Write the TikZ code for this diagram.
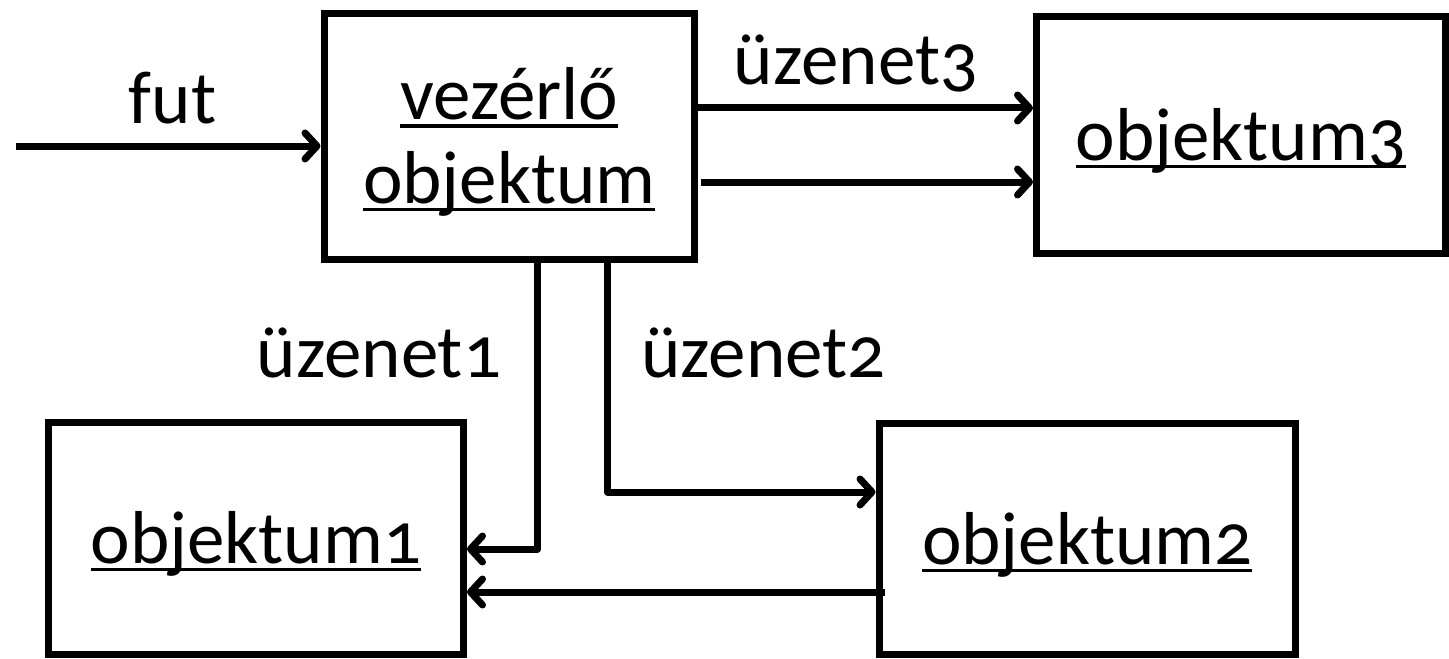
\documentclass[tikz,border=0pt]{standalone}
\usepackage{fontspec}
\setmainfont{Carlito}[Numbers=OldStyle]
\usetikzlibrary{arrows.meta}
\newcommand\ulx[1]{\setbox0=\hbox{#1}\rlap{\rule[-0.105em]{\wd0}{0.045em}}\box0}
\newcommand\lowr[1]{\raisebox{-2.75pt}[\height][\depth]{#1}}
\begin{document}
\begin{tikzpicture}[x=0.5pt,y=-0.5pt,
  every node/.style={font=\fontsize{37.5pt}{41pt}\selectfont},
  box/.style={draw, line width=3.5pt, rectangle, inner sep=0pt, align=center},
  obox/.style={box, text height=27pt, text depth=2pt},
  lbl/.style={anchor=base, inner sep=0pt},
  arr/.style={line width=3.5pt, line join=round, -{Straight Barb[length=6pt,width=13pt,line join=round,line cap=round]}}]
\useasboundingbox (0,0) rectangle (1449,658);
% boxes
\node[box, minimum width=185.25pt, minimum height=123pt] (V) at (509.25,136.5) {\lowr{\ulx{vezérlő}}\\[0.75pt]\lowr{\ulx{objektum}}};
\node[obox, minimum width=204.5pt, minimum height=118.5pt] (O3) at (1241,135) {\ulx{objektum3}};
\node[obox, minimum width=207.5pt, minimum height=116pt] (O1) at (256,538.5) {\ulx{objektum1}};
\node[obox, minimum width=208.25pt, minimum height=115.5pt] (O2) at (1087.25,539) {\ulx{objektum2}};
% labels
\node[lbl] (lfut) at (172.6,123) {fut};
\node[lbl] (l3) at (856,85) {üzenet3};
\node[lbl] (l1) at (379,377) {üzenet1};
\node[lbl] (l2) at (763.5,377) {üzenet2};
% helper coordinates
\coordinate (futs) at (16,146);
\coordinate (y108) at (0,108);
\coordinate (s3b) at (701,182);
\coordinate (x1) at (537.5,0);
\coordinate (y549) at (0,549);
\coordinate (x2) at (607.5,0);
\coordinate (y492) at (0,492);
\coordinate (sb) at (885,592);
% connectors
\draw[arr] (futs) -- (futs -| V.west);
\draw[arr] (V.east |- y108) -- (O3.west |- y108);
\draw[arr] (s3b) -- (O3.west |- s3b);
\draw[arr] (x1 |- V.south) |- (O1.east |- y549);
\draw[arr] (x2 |- V.south) |- (O2.west |- y492);
\draw[arr] (sb) -- (O1.east |- sb);
\end{tikzpicture}
\end{document}
